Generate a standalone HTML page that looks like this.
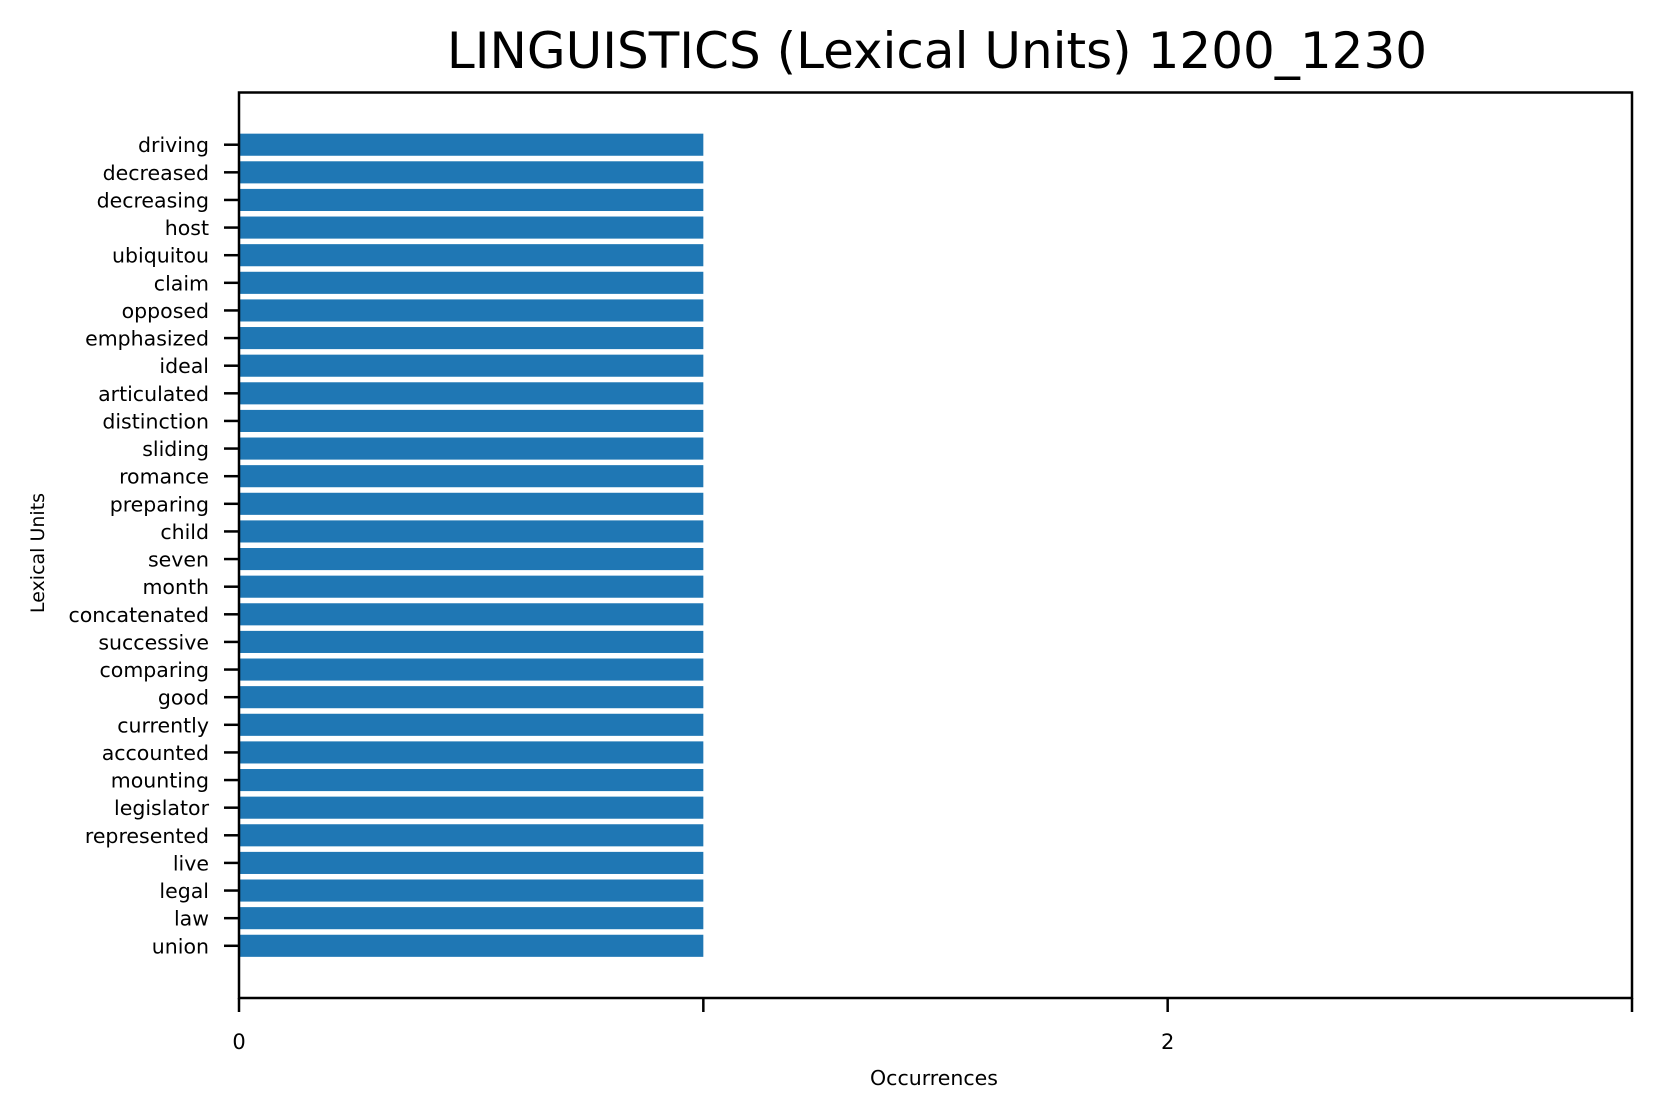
<!DOCTYPE html>
<html><head><meta charset="utf-8"><style>
html,body{margin:0;padding:0;background:#fff;}
svg{display:block;font-family:"DejaVu Sans","Liberation Sans",sans-serif;}
</style></head><body>
<svg id="chart" width="1662" height="1118" xmlns="http://www.w3.org/2000/svg">
<text x="937" y="68" font-size="50" text-anchor="middle" fill="#000">LINGUISTICS (Lexical Units) 1200_1230</text>
<g id="bars"></g>
<g id="yticks"></g>
<g id="xticks"></g>
<rect x="239" y="92.5" width="1393" height="905.5" fill="none" stroke="#000" stroke-width="2.5"/>
<text x="934" y="1085" font-size="20.5" text-anchor="middle">Occurrences</text>
<text x="44" y="553" font-size="19" text-anchor="middle" transform="rotate(-90 44 553)">Lexical Units</text>
</svg>
<script>
const categories = ["driving","decreased","decreasing","host","ubiquitou","claim","opposed","emphasized","ideal","articulated","distinction","sliding","romance","preparing","child","seven","month","concatenated","successive","comparing","good","currently","accounted","mounting","legislator","represented","live","legal","law","union"];
const values = [1,1,1,1,1,1,1,1,1,1,1,1,1,1,1,1,1,1,1,1,1,1,1,1,1,1,1,1,1,1];
const xTickValues = [0,1,2,3];
const xTickLabels = ["0","","2",""];
(function(){
const NS="http://www.w3.org/2000/svg";
const pLeft=239,pRight=1632,pTop=92.5,pBottom=998,xmax=3;
const n=categories.length;
const pad=0.05*(n-1+0.8);
const yMin=-0.4-pad, yMax=n-1+0.4+pad;
function xs(v){return pLeft+(v/xmax)*(pRight-pLeft);}
function ys(i){return pTop+(i-yMin)/(yMax-yMin)*(pBottom-pTop);}
const step=ys(1)-ys(0);
const bars=document.getElementById('bars'),yt=document.getElementById('yticks'),xt=document.getElementById('xticks');
categories.forEach((c,i)=>{
  const cy=ys(i);
  const r=document.createElementNS(NS,'rect');
  
  
  r.setAttribute('x',xs(0));r.setAttribute('y',cy-step*0.4);
  r.setAttribute('width',xs(values[i])-xs(0));r.setAttribute('height',step*0.8);
  r.setAttribute('fill','#1f77b4');bars.appendChild(r);
  const t=document.createElementNS(NS,'line');
  
  
  t.setAttribute('x1',pLeft-15);t.setAttribute('x2',pLeft);t.setAttribute('y1',cy);t.setAttribute('y2',cy);
  t.setAttribute('stroke','#000');t.setAttribute('stroke-width','2.5');yt.appendChild(t);
  const l=document.createElementNS(NS,'text');
  
  
  l.setAttribute('x',pLeft-30);l.setAttribute('y',cy+7.5);l.setAttribute('font-size','20.5');
  l.setAttribute('text-anchor','end');l.textContent=c;yt.appendChild(l);
});
xTickValues.forEach((v,i)=>{
  const x=xs(v);
  const t=document.createElementNS(NS,'line');
  
  
  t.setAttribute('x1',x);t.setAttribute('x2',x);t.setAttribute('y1',pBottom);t.setAttribute('y2',pBottom+14);
  t.setAttribute('stroke','#000');t.setAttribute('stroke-width','2.5');xt.appendChild(t);
  if(xTickLabels[i]){
    const l=document.createElementNS(NS,'text');
    
    
    l.setAttribute('x',x);l.setAttribute('y',1049);l.setAttribute('font-size','21');
    l.setAttribute('text-anchor','middle');l.textContent=xTickLabels[i];xt.appendChild(l);
  }
});
})();
</script>
</body></html>
